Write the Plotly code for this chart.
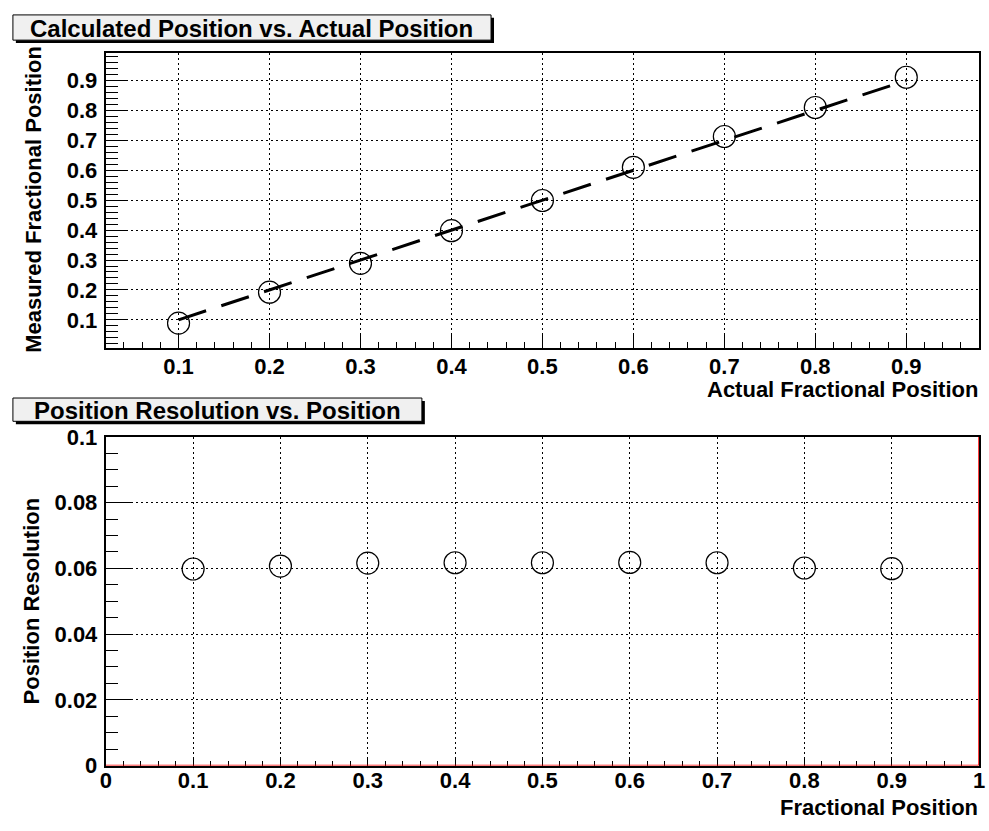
import plotly.graph_objects as go

# ---- data ----
actual_pos = [0.1, 0.2, 0.3, 0.4, 0.5, 0.6, 0.7, 0.8, 0.9]
measured_pos = [0.089, 0.1925, 0.289, 0.398, 0.499, 0.610, 0.713, 0.810, 0.911]
fit_x = [0.1, 0.9]
fit_y = [0.1, 0.9]
res_pos = [0.1, 0.2, 0.3, 0.4, 0.5, 0.6, 0.7, 0.8, 0.9]
resolution = [0.0598, 0.0607, 0.0616, 0.0617, 0.0617, 0.0618, 0.0617, 0.0601, 0.0599]
hist_x = [0.0, 1.0, 1.0]
hist_y = [0.0, 0.0, 0.1]

top_x_ticks = [0.1, 0.2, 0.3, 0.4, 0.5, 0.6, 0.7, 0.8, 0.9]
top_x_labels = ["0.1", "0.2", "0.3", "0.4", "0.5", "0.6", "0.7", "0.8", "0.9"]
top_y_ticks = [0.1, 0.2, 0.3, 0.4, 0.5, 0.6, 0.7, 0.8, 0.9]
top_y_labels = ["0.1", "0.2", "0.3", "0.4", "0.5", "0.6", "0.7", "0.8", "0.9"]
bot_x_ticks = [0, 0.1, 0.2, 0.3, 0.4, 0.5, 0.6, 0.7, 0.8, 0.9, 1.0]
bot_x_labels = ["0", "0.1", "0.2", "0.3", "0.4", "0.5", "0.6", "0.7", "0.8", "0.9", "1"]
bot_y_ticks = [0, 0.02, 0.04, 0.06, 0.08, 0.1]
bot_y_labels = ["0", "0.02", "0.04", "0.06", "0.08", "0.1"]

W, H = 989, 831
FONT = "Liberation Sans, Arial, Helvetica, sans-serif"


def px(x):
    return x / W


def py(y):
    return 1 - y / H


fig = go.Figure()

fig.add_trace(go.Scatter(
    x=fit_x, y=fit_y, mode="lines", xaxis="x", yaxis="y",
    line=dict(color="black", width=3, dash="29px,16px"), showlegend=False))
fig.add_trace(go.Scatter(
    x=actual_pos, y=measured_pos, mode="markers", xaxis="x", yaxis="y",
    marker=dict(symbol="circle-open", size=22, color="black", line=dict(width=1.2, color="black")),
    showlegend=False))

fig.add_trace(go.Scatter(
    x=hist_x, y=hist_y, mode="lines", xaxis="x2", yaxis="y2",
    line=dict(color="red", width=1.6), showlegend=False, cliponaxis=False))
fig.add_trace(go.Scatter(
    x=res_pos, y=resolution, mode="markers", xaxis="x2", yaxis="y2",
    marker=dict(symbol="circle-open", size=22, color="black", line=dict(width=1.2, color="black")),
    showlegend=False))

tickfont = dict(family=FONT, size=22, color="black", weight="bold")
common = dict(showline=True, linecolor="black", linewidth=2, mirror=True,
              ticks="inside", tickcolor="black", tickwidth=1,
              showgrid=True, gridcolor="black", gridwidth=1, griddash="2px,3px",
              zeroline=False, tickfont=tickfont, ticklabeloverflow="allow")

xdom = [px(101), px(985)]

fig.update_layout(
    width=W, height=H, autosize=False,
    margin=dict(l=0, r=0, t=0, b=0),
    paper_bgcolor="white", plot_bgcolor="white",
    xaxis=dict(domain=xdom, range=[0.02, 0.98], anchor="y",
               tickmode="array", tickvals=top_x_ticks, ticktext=top_x_labels, ticklen=13,
               ticklabelstandoff=-3,
               minor=dict(dtick=0.02, tick0=0, ticks="inside", ticklen=6, tickcolor="black", showgrid=False),
               **common),
    yaxis=dict(domain=[py(346.7), py(42)], range=[0.005, 0.993], anchor="x",
               tickmode="array", tickvals=top_y_ticks, ticktext=top_y_labels, ticklen=22,
               ticklabelstandoff=2,
               minor=dict(dtick=0.02, tick0=0, ticks="inside", ticklen=12, tickcolor="black", showgrid=False),
               **common),
    xaxis2=dict(domain=xdom, range=[0, 1], anchor="y2",
                tickmode="array", tickvals=bot_x_ticks, ticktext=bot_x_labels, ticklen=9,
                ticklabelstandoff=-6, layer="below traces",
                minor=dict(dtick=0.02, tick0=0, ticks="inside", ticklen=5, tickcolor="black", showgrid=False),
                **common),
    yaxis2=dict(domain=[py(777), py(438)], range=[0, 0.1], anchor="x2",
                tickmode="array", tickvals=bot_y_ticks, ticktext=bot_y_labels, ticklen=25,
                ticklabelstandoff=2, layer="below traces",
                minor=dict(dtick=0.005, tick0=0, ticks="inside", ticklen=12, tickcolor="black", showgrid=False),
                **common),
)

# title boxes with shadow
shapes = []
annos = []
titlefont = dict(family=FONT, size=24, color="black", weight="bold")
for (x0, y0, x1, y1, text) in [(7, 3, 491, 29, "Calculated Position vs. Actual Position"),
                               (7, 398, 421, 422, "Position Resolution vs. Position")]:
    shapes.append(dict(type="rect", xref="paper", yref="paper",
                       x0=px(x0 + 3), x1=px(x1 + 3), y0=py(y1 + 3), y1=py(y0 + 3),
                       fillcolor="black", line=dict(width=0), layer="above"))
    shapes.append(dict(type="rect", xref="paper", yref="paper",
                       x0=px(x0), x1=px(x1), y0=py(y1), y1=py(y0),
                       fillcolor="#f0f0f0", line=dict(width=1, color="black"), layer="above"))
    annos.append(dict(text=text, xref="paper", yref="paper",
                      x=px((x0 + x1) / 2), y=py((y0 + y1) / 2 + 1),
                      xanchor="center", yanchor="middle", showarrow=False, font=titlefont))

axfont = dict(family=FONT, size=22, color="black", weight="bold")
annos.append(dict(text="Actual Fractional Position", xref="paper", yref="paper",
                  x=px(986), y=py(389), xanchor="right", yanchor="middle", showarrow=False, font=axfont))
annos.append(dict(text="Fractional Position", xref="paper", yref="paper",
                  x=px(986), y=py(820), xanchor="right", yanchor="middle", showarrow=False, font=axfont))
annos.append(dict(text="Measured Fractional Position", xref="paper", yref="paper",
                  x=px(28), y=py(193), xanchor="center", yanchor="middle", textangle=-90,
                  showarrow=False, font=axfont))
annos.append(dict(text="Position Resolution", xref="paper", yref="paper",
                  x=px(26), y=py(607), xanchor="center", yanchor="middle", textangle=-90,
                  showarrow=False, font=axfont))

fig.update_layout(shapes=shapes, annotations=annos)

fig.write_html("out.html")
